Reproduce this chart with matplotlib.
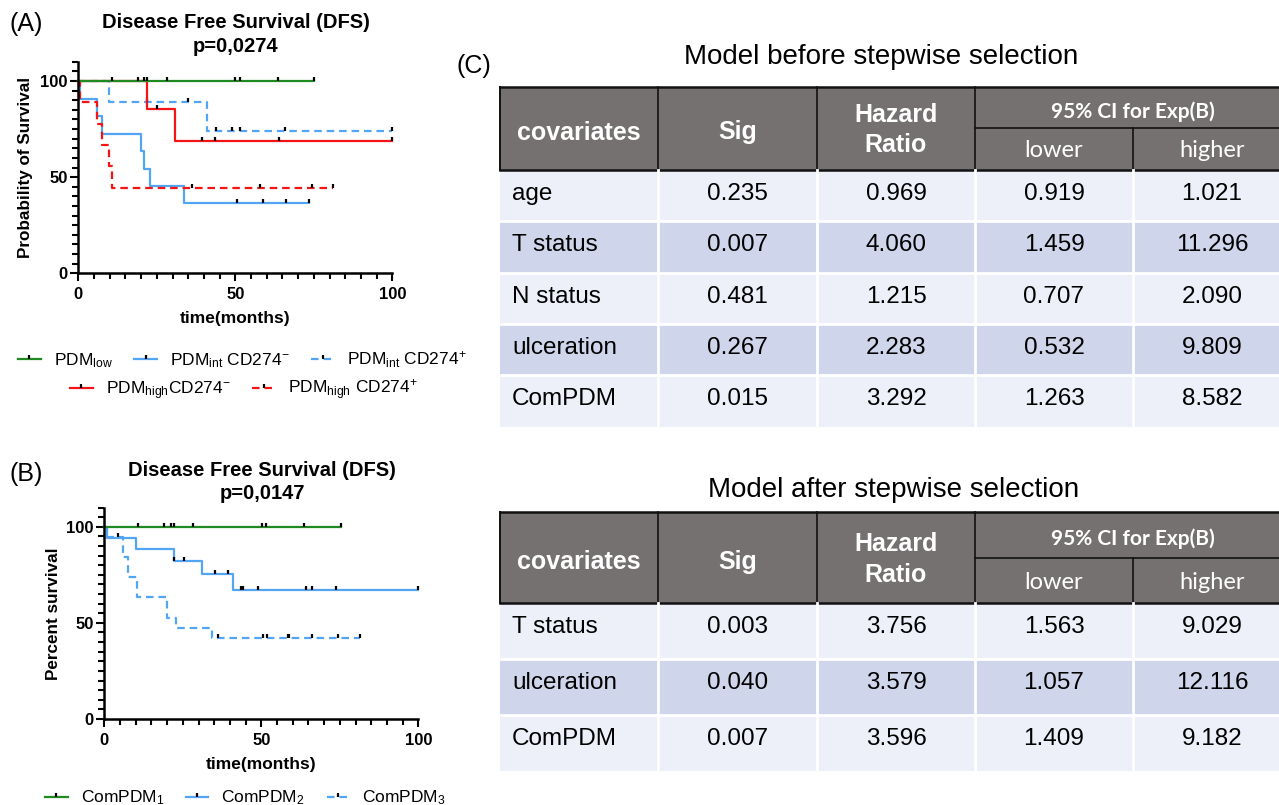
import numpy as np
import matplotlib
matplotlib.use("Agg")
import matplotlib.pyplot as plt
from matplotlib.path import Path
from matplotlib.patches import Rectangle
from matplotlib.lines import Line2D

plt.rcParams['font.family'] = ['Liberation Sans', 'DejaVu Sans']
plt.rcParams['mathtext.fontset'] = 'custom'
plt.rcParams['mathtext.rm'] = 'Liberation Sans'
plt.rcParams['mathtext.it'] = 'Liberation Sans:italic'
plt.rcParams['mathtext.bf'] = 'Liberation Sans:bold'

# ---------------- data ----------------
# Panel A (months, % survival): step times / levels, censored times
a_low_t = [0, 75.0]
a_low_s = [100, 100]
a_low_c = [10.8, 18.9, 20.9, 21.9, 28.4, 49.9, 51.5, 63.7, 75.0]

a_intneg_t = [0, 0.7, 5.8, 7.6, 20.0, 20.8, 22.9, 33.8, 73.6]
a_intneg_s = [100, 90.9, 81.8, 72.7, 63.6, 54.5, 45.5, 36.4, 36.4]
a_intneg_c = [50.4, 58.8, 66.0, 73.6]

a_intpos_t = [0, 9.8, 40.9, 100]
a_intpos_s = [100, 88.9, 74.1, 74.1]
a_intpos_c = [21.8, 35.0, 44.0, 48.8, 51.5, 65.8, 100]

a_highneg_t = [0, 21.8, 30.7, 100]
a_highneg_s = [100, 85.7, 68.6, 68.6]
a_highneg_c = [25.2, 39.5, 43.5, 63.9, 100]

a_highpos_t = [0, 0.5, 5.8, 7.5, 9.8, 10.8, 81.2]
a_highpos_s = [100, 88.9, 77.8, 66.7, 55.6, 44.4, 44.4]
a_highpos_c = [36.3, 58.0, 74.3, 81.2]

# Panel B
b_c1_t = [0, 75.3]
b_c1_s = [100, 100]
b_c1_c = [10.8, 19.0, 21.1, 22.2, 28.3, 50.1, 51.4, 63.7, 75.3]

b_c2_t = [0, 1.0, 10.0, 22.2, 31.0, 40.9, 100]
b_c2_s = [100, 94.1, 88.2, 82.4, 75.3, 67.0, 67.0]
b_c2_c = [22.2, 25.5, 35.3, 39.5, 43.5, 44.1, 48.8, 64.1, 66.2, 73.8, 100]

b_c3_t = [0, 1.0, 5.9, 7.7, 10.5, 19.9, 22.8, 34.2, 81.4]
b_c3_s = [100, 94.7, 84.2, 73.7, 63.2, 52.6, 47.4, 42.1, 42.1]
b_c3_c = [4.5, 36.3, 50.6, 51.7, 58.5, 58.9, 66.2, 74.5, 81.4]

# Panel C tables
t1_names = ['age', 'T status', 'N status', 'ulceration', 'ComPDM']
t1_sig = ['0.235', '0.007', '0.481', '0.267', '0.015']
t1_hr = ['0.969', '4.060', '1.215', '2.283', '3.292']
t1_lo = ['0.919', '1.459', '0.707', '0.532', '1.263']
t1_hi = ['1.021', '11.296', '2.090', '9.809', '8.582']

t2_names = ['T status', 'ulceration', 'ComPDM']
t2_sig = ['0.003', '0.040', '0.007']
t2_hr = ['3.756', '3.579', '3.596']
t2_lo = ['1.563', '1.057', '1.409']
t2_hi = ['9.029', '12.116', '9.182']

GREEN = '#1F8A1F'
BLUE = '#52A5F2'
RED = '#F41414'
DASH = (0, (3.4, 2.2))
CENSOR = Path([(0, 0), (0, 1)], [Path.MOVETO, Path.LINETO])

W, H = 1279, 805
fig = plt.figure(figsize=(W / 100, H / 100), dpi=100)

# background axes in pixel coordinates (y downwards) for texts and tables
bg = fig.add_axes([0, 0, 1, 1], zorder=-1)
bg.set_xlim(0, W)
bg.set_ylim(H, 0)
bg.axis('off')


def km(ax, t, s, cens, color, ls):
    ax.step(t, s, where='post', color=color, ls=ls, lw=1.6, clip_on=False)
    idx = np.searchsorted(t, cens, side='right') - 1
    ax.plot(cens, np.asarray(s)[idx], ls='none', marker=CENSOR, ms=6,
            mew=1.6, color='k', clip_on=False)


def style_km(ax, ylabel, ylab_x):
    ax.set_xlim(0, 100)
    ax.set_ylim(0, 110)
    ax.set_xticks([0, 50, 100])
    ax.set_yticks([0, 50, 100])
    ax.set_xticks(np.arange(0, 101, 5), minor=True)
    ax.set_yticks(np.arange(0, 111, 5), minor=True)
    for sp in ['top', 'right']:
        ax.spines[sp].set_visible(False)
    for sp in ['left', 'bottom']:
        ax.spines[sp].set_linewidth(1.8)
    ax.tick_params(which='major', length=6, width=1.5, labelsize=12)
    ax.tick_params(which='minor', length=4, width=1.5)
    ax.tick_params(axis='y', pad=1.5)
    ax.tick_params(axis='x', pad=4)
    for lab in ax.get_xticklabels() + ax.get_yticklabels():
        lab.set_fontweight('bold')
    ax.set_xlabel('time(months)', fontsize=12.5, fontweight='bold')
    ax.set_ylabel(ylabel, fontsize=12.3, fontweight='bold')
    ax.xaxis.set_label_coords(0.5, -0.18)
    ax.yaxis.set_label_coords(ylab_x, 0.5)
    ax.patch.set_alpha(0)


def handle(color, ls):
    return Line2D([], [], color=color, ls=ls, lw=1.6, marker=CENSOR, ms=6,
                  mec='k', mfc='k', mew=1.6)


def legend_row(handles, labels, x, y):
    fig.legend(handles, labels, loc='center left', bbox_to_anchor=(x, y),
               bbox_transform=bg.transData, ncol=len(handles), frameon=False,
               fontsize=12.5, borderpad=0, borderaxespad=0, handlelength=1.3,
               handletextpad=0.75, columnspacing=1.25, numpoints=1)


# ---------------- panel A ----------------
axA = fig.add_axes([78.3 / W, 1 - 273.3 / H, 314 / W, 211.5 / H])
km(axA, a_intneg_t, a_intneg_s, a_intneg_c, BLUE, '-')
km(axA, a_intpos_t, a_intpos_s, a_intpos_c, BLUE, DASH)
km(axA, a_highneg_t, a_highneg_s, a_highneg_c, RED, '-')
km(axA, a_highpos_t, a_highpos_s, a_highpos_c, RED, DASH)
km(axA, a_low_t, a_low_s, a_low_c, GREEN, '-')
style_km(axA, 'Probability of Survival', -0.143)

bg.text(26, 24, '(A)', fontsize=18, ha='center', va='center')
bg.text(236, 22, 'Disease Free Survival (DFS)', fontsize=14.5, fontweight='bold',
        ha='center', va='center')
bg.text(236, 46, 'p=0,0274', fontsize=14.5, fontweight='bold', ha='center', va='center')

legend_row([handle(GREEN, '-'), handle(BLUE, '-'), handle(BLUE, DASH)],
           [r'PDM$_{\mathregular{low}}$', r'PDM$_{\mathregular{int}}$ CD274$^{-}$',
            r'PDM$_{\mathregular{int}}$ CD274$^{+}$'], 18, 360)
legend_row([handle(RED, '-'), handle(RED, DASH)],
           [r'PDM$_{\mathregular{high}}$CD274$^{-}$', r'PDM$_{\mathregular{high}}$ CD274$^{+}$'],
           70, 390)

# ---------------- panel B ----------------
axB = fig.add_axes([104.3 / W, 1 - 719 / H, 314 / W, 211.5 / H])
km(axB, b_c3_t, b_c3_s, b_c3_c, BLUE, DASH)
km(axB, b_c2_t, b_c2_s, b_c2_c, BLUE, '-')
km(axB, b_c1_t, b_c1_s, b_c1_c, GREEN, '-')
style_km(axB, 'Percent survival', -0.139)

bg.text(26, 474, '(B)', fontsize=18, ha='center', va='center')
bg.text(262, 470, 'Disease Free Survival (DFS)', fontsize=14.5, fontweight='bold',
        ha='center', va='center')
bg.text(262, 493, 'p=0,0147', fontsize=14.5, fontweight='bold', ha='center', va='center')

legend_row([handle(GREEN, '-'), handle(BLUE, '-'), handle(BLUE, DASH)],
           [r'ComPDM$_{\mathregular{1}}$', r'ComPDM$_{\mathregular{2}}$',
            r'ComPDM$_{\mathregular{3}}$'], 45, 798)

# ---------------- panel C ----------------
COL_X = [500, 658, 817, 975, 1133, 1291]
HDR_FILL = '#767171'
ROW_FILLS = ['#EDF0F9', '#CFD5EA']

bg.text(474, 66, '(C)', fontsize=18, ha='center', va='center')


def draw_table(top, sub, hbot, row_h, title, title_xy, names, sig, hr, lo, hi):
    bg.text(title_xy[0], title_xy[1], title, fontsize=20, ha='center', va='center')
    x0, x1 = COL_X[0], COL_X[-1]
    bg.add_patch(Rectangle((x0, top), x1 - x0, hbot - top, fc=HDR_FILL, ec='none'))
    bg.plot([x0, x1], [top, top], color='#111111', lw=1.8)
    bg.plot([x0, x1], [hbot, hbot], color='#111111', lw=1.8)
    bg.plot([x0, x0], [top, hbot], color='#111111', lw=1.4)
    for xc in COL_X[1:4]:
        bg.plot([xc, xc], [top, hbot], color='#111111', lw=1.2)
    bg.plot([COL_X[4], COL_X[4]], [sub, hbot], color='#111111', lw=1.2)
    bg.plot([COL_X[3], x1], [sub, sub], color='#111111', lw=1.2)

    mid = (top + hbot) / 2
    cx = [(COL_X[i] + COL_X[i + 1]) / 2 for i in range(5)]
    hdr = dict(color='white', fontsize=18, fontweight='bold', ha='center', va='baseline')
    bg.text(cx[0], mid + 11, 'covariates', **hdr)
    bg.text(cx[1], mid + 11, 'Sig', **hdr)
    bg.text(cx[2], mid - 7, 'Hazard', **hdr)
    bg.text(cx[2], mid + 24, 'Ratio', **hdr)
    bg.text(COL_X[4], (top + sub) / 2 + 10, '95% CI for Exp(B)', color='white',
            fontsize=15, fontweight='bold', family='Lato', ha='center', va='baseline')
    bg.text(cx[3], (sub + hbot) / 2 + 8, 'lower', color='white', fontsize=17,
            family='Lato', ha='center', va='baseline')
    bg.text(cx[4], (sub + hbot) / 2 + 8, 'higher', color='white', fontsize=17,
            family='Lato', ha='center', va='baseline')

    for i, name in enumerate(names):
        y0 = hbot + i * row_h
        bg.add_patch(Rectangle((x0, y0), x1 - x0, row_h, fc=ROW_FILLS[i % 2], ec='none'))
        if i > 0:
            bg.plot([x0, x1], [y0, y0], color='white', lw=2)
        bg.text(x0 + 12, y0 + 30, name, fontsize=17.5, ha='left', va='baseline')
        for j, val in enumerate([sig[i], hr[i], lo[i], hi[i]]):
            bg.text(cx[j + 1], y0 + 30, val, fontsize=17.5, ha='center', va='baseline')
    ybot = hbot + len(names) * row_h
    for xc in COL_X[1:5]:
        bg.plot([xc, xc], [hbot, ybot], color='white', lw=2)


draw_table(87, 128, 170, 51.35, 'Model before stepwise selection', (881, 57),
           t1_names, t1_sig, t1_hr, t1_lo, t1_hi)
draw_table(512, 558, 603, 56, 'Model after stepwise selection', (894, 490),
           t2_names, t2_sig, t2_hr, t2_lo, t2_hi)

fig.savefig('out.png', dpi=100)
